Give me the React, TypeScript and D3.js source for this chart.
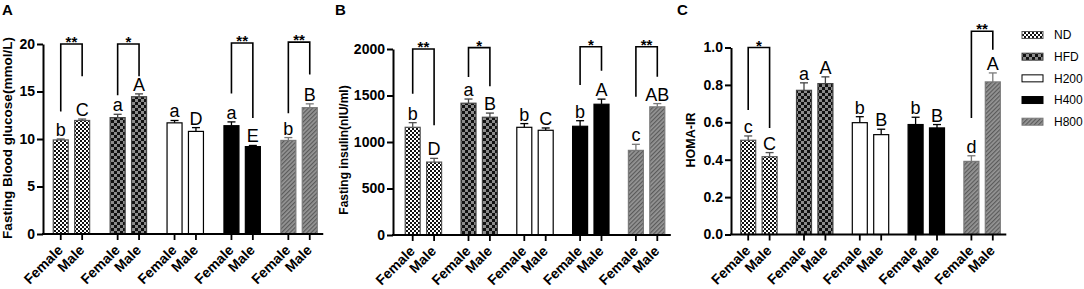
import React, { useEffect, useRef } from 'react';
import * as d3 from 'd3';

// ---------- data ----------
const groups = ['ND', 'HFD', 'H200', 'H400', 'H800'];
const sexes = ['Female', 'Male'];

// order: ND F, ND M, HFD F, HFD M, H200 F, H200 M, H400 F, H400 M, H800 F, H800 M
const glucoseMean = [9.9, 11.95, 12.25, 14.45, 11.7, 10.8, 11.4, 9.2, 9.85, 13.3];
const glucoseSem = [0.1, 0.15, 0.35, 0.3, 0.25, 0.4, 0.4, 0.12, 0.3, 0.4];
const glucoseLetters = ['b', 'C', 'a', 'A', 'a', 'D', 'a', 'E', 'b', 'B'];

const insulinMean = [1158, 784, 1417, 1266, 1158, 1126, 1169, 1406, 910, 1378];
const insulinSem = [50, 40, 45, 45, 40, 25, 60, 55, 65, 35];
const insulinLetters = ['b', 'D', 'a', 'B', 'b', 'C', 'b', 'A', 'c', 'AB'];

const homaMean = [0.504, 0.416, 0.771, 0.807, 0.598, 0.534, 0.588, 0.57, 0.391, 0.816];
const homaSem = [0.023, 0.022, 0.04, 0.036, 0.032, 0.029, 0.039, 0.018, 0.03, 0.048];
const homaLetters = ['c', 'C', 'a', 'A', 'b', 'B', 'b', 'B', 'd', 'A'];

// significance brackets: group, top, left-leg bottom, right-leg bottom (data units), stars
const glucoseBrackets = [
  { group: 'ND', top: 20, left: 12.9, right: 16.6, stars: '**' },
  { group: 'HFD', top: 20, left: 14.6, right: 16.6, stars: '*' },
  { group: 'H400', top: 20.1, left: 14.8, right: 12.2, stars: '**' },
  { group: 'H800', top: 20.2, left: 12.7, right: 16.8, stars: '**' },
];
const insulinBrackets = [
  { group: 'ND', top: 2000, left: 1520, right: 1180, stars: '**' },
  { group: 'HFD', top: 2015, left: 1700, right: 1600, stars: '*' },
  { group: 'H400', top: 2025, left: 1613, right: 1767, stars: '*' },
  { group: 'H800', top: 2025, left: 1487, right: 1702, stars: '**' },
];
const homaBrackets = [
  { group: 'ND', top: 1.0, left: 0.666, right: 0.57, stars: '*' },
  { group: 'H800', top: 1.087, left: 0.623, right: 0.988, stars: '**' },
];

const glucoseTicks = [0, 5, 10, 15, 20];
const insulinTicks = [0, 500, 1000, 1500, 2000];
const homaTicks = [0, 0.2, 0.4, 0.6, 0.8, 1.0];

const legendLabels = ['ND', 'HFD', 'H200', 'H400', 'H800'];

// ---------- styles ----------
const FONT = 'Arial, "Liberation Sans", Helvetica, sans-serif';
const fills = ['url(#pND)', 'url(#pHFD)', '#ffffff', '#000000', 'url(#pH800)'];
const strokes = ['#555555', '#444444', '#000000', '#000000', '#7a7a7a'];

type Bracket = { group: string; top: number; left: number; right: number; stars: string };
type PanelCfg = {
  letter: string;
  letterX: number;
  axisX: number;
  bandStart: number;
  bandEnd: number;
  y0: number;
  y1: number;
  domain: [number, number];
  ticks: number[];
  fmt: (v: number) => string;
  title: string;
  titleX: number;
  titleY: number;
  titleSize: number;
  means: number[];
  sems: number[];
  letters: string[];
  brackets: Bracket[];
};

const panels: PanelCfg[] = [
  {
    letter: 'A', letterX: 2, axisX: 43, bandStart: 43, bandEnd: 327.5, y0: 234, y1: 44,
    domain: [0, 20], ticks: glucoseTicks, fmt: d3.format('d'),
    title: 'Fasting Blood glucose(mmol/L)', titleX: 12, titleY: 138, titleSize: 13.5,
    means: glucoseMean, sems: glucoseSem, letters: glucoseLetters, brackets: glucoseBrackets,
  },
  {
    letter: 'B', letterX: 335, axisX: 393, bandStart: 395.5, bandEnd: 674.5, y0: 235, y1: 49,
    domain: [0, 2000], ticks: insulinTicks, fmt: d3.format('d'),
    title: 'Fasting insulin(nIU/ml)', titleX: 348, titleY: 150, titleSize: 12,
    means: insulinMean, sems: insulinSem, letters: insulinLetters, brackets: insulinBrackets,
  },
  {
    letter: 'C', letterX: 677, axisX: 731, bandStart: 731, bandEnd: 1010, y0: 234.5, y1: 47.5,
    domain: [0, 1], ticks: homaTicks, fmt: d3.format('.1f'),
    title: 'HOMA-IR', titleX: 695, titleY: 140, titleSize: 12.5,
    means: homaMean, sems: homaSem, letters: homaLetters, brackets: homaBrackets,
  },
];

function drawPanel(svg: d3.Selection<SVGSVGElement, unknown, null, undefined>, cfg: PanelCfg) {
  const g = svg.append('g');
  const y = d3.scaleLinear().domain(cfg.domain).range([cfg.y0, cfg.y1]);
  const xg = d3.scaleBand<string>().domain(groups).range([cfg.bandStart, cfg.bandEnd]);
  const xs = d3.scalePoint<string>().domain(sexes).range([-10.7, 10.7]);
  const barW = 15;
  const cx = (i: number) =>
    (xg(groups[Math.floor(i / 2)]) as number) + xg.bandwidth() / 2 + (xs(sexes[i % 2]) as number);

  const idx = d3.range(cfg.means.length);

  // error bars (upper only)
  const eb = g.append('g');
  idx.forEach((i) => {
    const gi = Math.floor(i / 2);
    const x = cx(i);
    const top = y(cfg.means[i] + cfg.sems[i]);
    eb.append('line').attr('x1', x).attr('x2', x).attr('y1', y(cfg.means[i])).attr('y2', top)
      .attr('stroke', strokes[gi]).attr('stroke-width', 1.3);
    eb.append('line').attr('x1', x - 4).attr('x2', x + 4).attr('y1', top).attr('y2', top)
      .attr('stroke', strokes[gi]).attr('stroke-width', 1.3);
  });

  // bars
  g.append('g').selectAll('rect').data(idx).join('rect')
    .attr('x', (i) => cx(i) - barW / 2)
    .attr('y', (i) => y(cfg.means[i]))
    .attr('width', barW)
    .attr('height', (i) => y(0) - y(cfg.means[i]))
    .attr('fill', (i) => fills[Math.floor(i / 2)])
    .attr('stroke', (i) => strokes[Math.floor(i / 2)])
    .attr('stroke-width', 1.2);

  // letters
  g.append('g').selectAll('text').data(idx).join('text')
    .attr('x', (i) => cx(i))
    .attr('y', (i) => y(cfg.means[i] + cfg.sems[i]) - 3)
    .attr('text-anchor', 'middle')
    .attr('font-family', FONT)
    .attr('font-size', 18)
    .attr('fill', '#000')
    .text((i) => cfg.letters[i]);

  // brackets
  cfg.brackets.forEach((b) => {
    const gi = groups.indexOf(b.group);
    const xl = cx(gi * 2);
    const xr = cx(gi * 2 + 1);
    const path = d3.path();
    path.moveTo(xl, y(b.left));
    path.lineTo(xl, y(b.top));
    path.lineTo(xr, y(b.top));
    path.lineTo(xr, y(b.right));
    g.append('path').attr('d', path.toString()).attr('fill', 'none')
      .attr('stroke', '#000').attr('stroke-width', 1.6);
    g.append('text').attr('x', (xl + xr) / 2).attr('y', y(b.top) + 3)
      .attr('text-anchor', 'middle').attr('font-family', FONT).attr('font-size', 15)
      .attr('font-weight', 'bold').text(b.stars);
  });

  // y axis
  const ax = g.append('g').attr('transform', `translate(${cfg.axisX},0)`)
    .call(d3.axisLeft(y).tickValues(cfg.ticks).tickSize(6).tickSizeOuter(0).tickPadding(2)
      .tickFormat((v) => cfg.fmt(v as number)));
  ax.select('.domain').attr('stroke', '#000').attr('stroke-width', 2);
  ax.selectAll('.tick line').attr('stroke', '#000').attr('stroke-width', 2);
  ax.selectAll('.tick text').attr('font-family', FONT).attr('font-size', 14)
    .attr('font-weight', 'bold').attr('fill', '#000');

  // x axis
  const lastRight = cx(idx.length - 1) + barW / 2 + 6;
  g.append('line').attr('x1', cfg.axisX - 1).attr('x2', lastRight)
    .attr('y1', cfg.y0).attr('y2', cfg.y0).attr('stroke', '#000').attr('stroke-width', 2);
  g.append('g').selectAll('line').data(idx).join('line')
    .attr('x1', (i) => cx(i)).attr('x2', (i) => cx(i))
    .attr('y1', cfg.y0).attr('y2', cfg.y0 + 6)
    .attr('stroke', '#000').attr('stroke-width', 1.8);
  g.append('g').selectAll('text').data(idx).join('text')
    .attr('transform', (i) => `translate(${cx(i) + 3},${cfg.y0 + 17}) rotate(-45)`)
    .attr('text-anchor', 'end')
    .attr('font-family', FONT)
    .attr('font-size', 14)
    .attr('font-weight', 'bold')
    .text((i) => sexes[i % 2]);

  // y title
  g.append('text')
    .attr('transform', `translate(${cfg.titleX},${cfg.titleY}) rotate(-90)`)
    .attr('text-anchor', 'middle')
    .attr('font-family', FONT)
    .attr('font-size', cfg.titleSize)
    .attr('font-weight', 'bold')
    .text(cfg.title);

  // panel letter
  g.append('text').attr('x', cfg.letterX).attr('y', 15)
    .attr('font-family', FONT).attr('font-size', 15).attr('font-weight', 'bold')
    .text(cfg.letter);
}

export default function App() {
  const ref = useRef<SVGSVGElement>(null);
  useEffect(() => {
    if (!ref.current) return;
    const svg = d3.select(ref.current);
    svg.selectAll('*').remove();
    const defs = svg.append('defs');

    const nd = defs.append('pattern').attr('id', 'pND').attr('patternUnits', 'userSpaceOnUse')
      .attr('width', 4).attr('height', 4);
    nd.append('rect').attr('width', 4).attr('height', 4).attr('fill', '#ffffff');
    nd.append('rect').attr('width', 2).attr('height', 2).attr('fill', '#111');
    nd.append('rect').attr('x', 2).attr('y', 2).attr('width', 2).attr('height', 2).attr('fill', '#111');

    const hfd = defs.append('pattern').attr('id', 'pHFD').attr('patternUnits', 'userSpaceOnUse')
      .attr('width', 6).attr('height', 6);
    hfd.append('rect').attr('width', 6).attr('height', 6).attr('fill', '#111');
    hfd.append('rect').attr('width', 3).attr('height', 3).attr('fill', '#8c8c8c');
    hfd.append('rect').attr('x', 3).attr('y', 3).attr('width', 3).attr('height', 3).attr('fill', '#8c8c8c');

    const h8 = defs.append('pattern').attr('id', 'pH800').attr('patternUnits', 'userSpaceOnUse')
      .attr('width', 3).attr('height', 3).attr('patternTransform', 'rotate(45)');
    h8.append('rect').attr('width', 3).attr('height', 3).attr('fill', '#969696');
    h8.append('rect').attr('width', 1.2).attr('height', 3).attr('fill', '#5a5a5a');

    panels.forEach((p) => drawPanel(svg, p));

    // legend
    const lg = svg.append('g');
    const ly = d3.scalePoint<string>().domain(legendLabels).range([35, 121.7]);
    legendLabels.forEach((l, i) => {
      const yy = ly(l) as number;
      lg.append('rect').attr('x', 1022).attr('y', yy - 3.5).attr('width', 21).attr('height', 7)
        .attr('fill', fills[i]).attr('stroke', strokes[i]).attr('stroke-width', 1);
      lg.append('text').attr('x', 1054).attr('y', yy + 4.3).attr('font-family', FONT)
        .attr('font-size', 12).text(l);
    });
  }, []);
  return (
    <svg ref={ref} width={1084} height={289}
      style={{ position: 'absolute', left: 0, top: 0, background: '#fff' }} />
  );
}
